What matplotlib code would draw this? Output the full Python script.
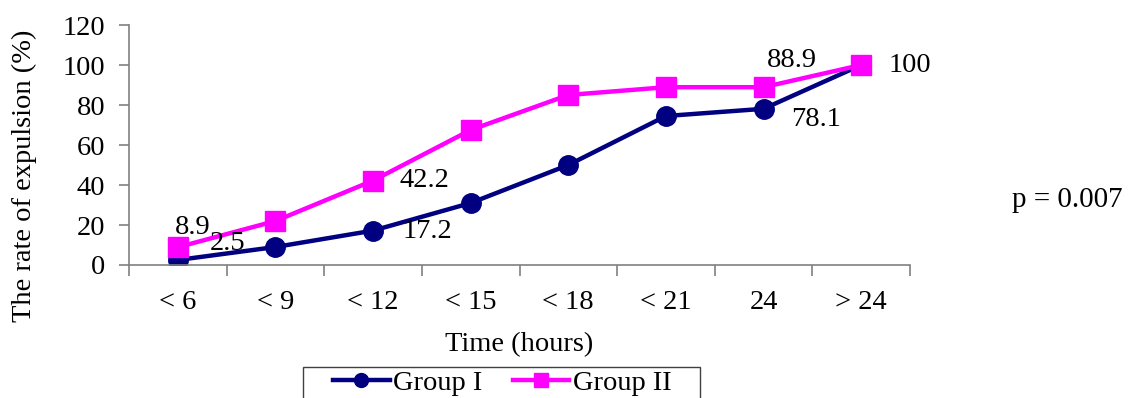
import matplotlib
matplotlib.use("Agg")
import matplotlib.pyplot as plt
from matplotlib.patches import Rectangle
import numpy as np

categories = ["< 6", "< 9", "< 12", "< 15", "< 18", "< 21", "24", "> 24"]
group1 = [2.5, 9.0, 17.2, 31.0, 50.0, 74.5, 78.1, 100.0]
group2 = [8.9, 22.0, 42.2, 67.5, 85.0, 88.9, 88.9, 100.0]
yticks = [0, 20, 40, 60, 80, 100, 120]

plt.rcParams['font.family'] = ['Liberation Serif', 'DejaVu Serif']
FS = 20.5
W, H = 1134, 398

fig = plt.figure(figsize=(11.34, 3.98), dpi=100)
ax = fig.add_axes([129/W, 1-265/H, (910-129)/W, (265-25)/H])

x = np.arange(len(categories))
l1, = ax.plot(x, group1, color='#000080', lw=3.2, marker='o', ms=14, label='Group I')
l2, = ax.plot(x, group2, color='#FF00FF', lw=3.2, marker='s', ms=14, label='Group II')

ax.set_xlim(-0.5, len(categories) - 0.5)
ax.set_ylim(0, 120)
ax.set_yticks(yticks)
ax.set_xticks(x)
ax.set_xticklabels(categories)
ax.set_xticks(np.arange(-0.5, len(categories), 1.0), minor=True)
ax.tick_params(axis='x', which='major', length=0, pad=18, labelsize=FS)
ax.tick_params(axis='x', which='minor', length=8, color='#808080', width=1.2)
ax.tick_params(axis='y', length=7, color='#808080', width=1.2, labelsize=FS, pad=10)
for s in ['top', 'right']:
    ax.spines[s].set_visible(False)
for s in ['left', 'bottom']:
    ax.spines[s].set_color('#808080')
    ax.spines[s].set_linewidth(1.2)

ax.set_ylabel('The rate of expulsion (%)', fontsize=FS)
ax.yaxis.set_label_coords(fig.transFigure.transform((24/W, 0))[0] and (24-129)/(910-129),
                          (265-176)/(265-25))
ax.yaxis.label.set_va('center')
ax.set_xlabel('Time (hours)', fontsize=FS)
ax.xaxis.set_label_coords(0.5, -(345-265)/(265-25))
ax.xaxis.label.set_va('center')

px = 0.72
def lab(i, series, text, dx, dy, ha='left'):
    ax.annotate(text, (x[i], series[i]), xytext=(dx*px, dy*px), textcoords='offset points',
                ha=ha, va='center', fontsize=FS)

lab(0, group2, '8.9', -3, 20)
lab(0, group1, '2.5', 32, 17)
lab(2, group2, '42.2', 26, 0)
lab(2, group1, '17.2', 29, -1)
lab(6, group2, '88.9', 3, 27)
lab(6, group1, '78.1', 28, -11)
lab(7, group2, '100', 27, 0)

fig.text(1012/W, 1-200/H, 'p = 0.007', fontsize=21, va='center', ha='left')

# legend frame (extends past the bottom edge, as in the reference)
fig.patches.append(Rectangle((303/W, -0.05), (700-303)/W, 0.05 + 1-367/H,
                             transform=fig.transFigure, fill=False,
                             edgecolor='#404040', lw=1.0))
leg = fig.legend(handles=[l1, l2], loc='center left', bbox_to_anchor=(333/W, 1-383/H),
                 ncol=2, fontsize=FS, frameon=False, handlelength=2.0,
                 handletextpad=0.12, columnspacing=1.05, borderpad=0, borderaxespad=0)
for h in leg.legend_handles:
    h.set_markersize(10)

fig.savefig('out.png', dpi=100)
